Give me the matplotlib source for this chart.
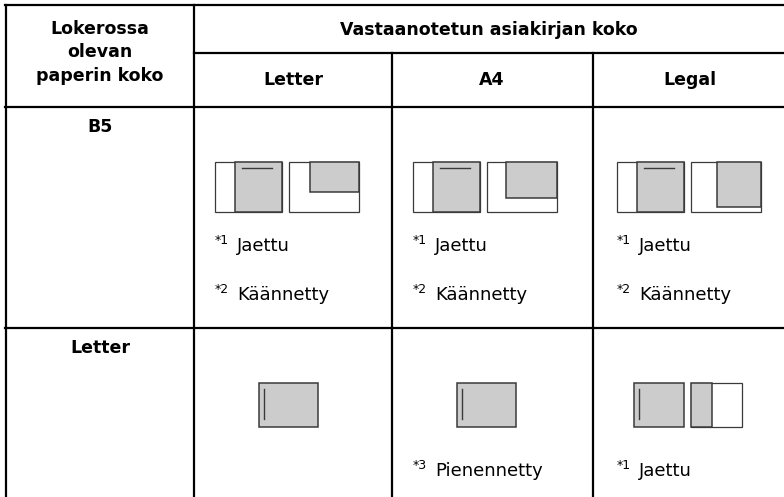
import matplotlib.pyplot as plt
from matplotlib.patches import Rectangle

# Table content
corner_lines = ["Lokerossa", "olevan", "paperin koko"]
group_header = "Vastaanotetun asiakirjan koko"
doc_sizes = ["Letter", "A4", "Legal"]
tray_sizes = ["B5", "Letter"]
cell_notes = [
    [[("*1", "Jaettu"), ("*2", "Käännetty")],
     [("*1", "Jaettu"), ("*2", "Käännetty")],
     [("*1", "Jaettu"), ("*2", "Käännetty")]],
    [[],
     [("*3", "Pienennetty")],
     [("*1", "Jaettu")]],
]
# icon kind per cell
cell_icons = [
    ["split+rot_letter", "split+rot_a4", "split+rot_legal"],
    ["single", "single", "single+half"],
]

GRAY = "#cccccc"
EDGE = "#3a3a3a"
FONT = "DejaVu Sans"

fig = plt.figure(figsize=(7.84, 4.97), dpi=100)
ax = fig.add_axes([0, 0, 1, 1])
ax.set_xlim(0, 784)
ax.set_ylim(497, 0)
ax.axis("off")

# grid lines (pixel layout)
col_x = [6, 194, 392, 593]
lw = 1.6
ax.plot([5, 784], [5, 5], color="k", lw=lw)
ax.plot([6, 6], [5, 497], color="k", lw=lw)
ax.plot([194, 194], [5, 497], color="k", lw=lw)
ax.plot([194, 784], [53, 53], color="k", lw=lw)
ax.plot([5, 784], [107, 107], color="k", lw=lw)
ax.plot([392, 392], [53, 497], color="k", lw=lw)
ax.plot([593, 593], [53, 497], color="k", lw=lw)
ax.plot([5, 784], [328, 328], color="k", lw=lw)

# headers
HS = 12.5
for txt, yb in zip(corner_lines, [34, 57, 81]):
    ax.text(100, yb, txt, ha="center", va="baseline", fontsize=HS,
            fontweight="bold", family=FONT)
ax.text(489, 35, group_header, ha="center", va="baseline", fontsize=HS,
        fontweight="bold", family=FONT)
col_centers = [293, 492, 690]
for txt, xc in zip(doc_sizes, col_centers):
    ax.text(xc, 85, txt, ha="center", va="baseline", fontsize=HS,
            fontweight="bold", family=FONT)
for txt, yb in zip(tray_sizes, [132, 353]):
    ax.text(100, yb, txt, ha="center", va="baseline", fontsize=HS,
            fontweight="bold", family=FONT)


def rect(x, y, w, h, fc, lw=0.9, ec=EDGE):
    ax.add_patch(Rectangle((x, y), w, h, facecolor=fc, edgecolor=ec, lw=lw))


def icon_split(x, y):
    rect(x, y, 67, 50, "white")
    rect(x + 20, y, 47, 50, GRAY, lw=1.1)
    ax.plot([x + 27, x + 57], [y + 6, y + 6], color=EDGE, lw=1.0)


def icon_rot(x, y, gw, gh):
    rect(x, y, 70, 50, "white")
    rect(x + 70 - gw, y, gw, gh, GRAY, lw=1.1)


def icon_single(x, y, w=59):
    rect(x, y, w, 44, GRAY, lw=1.1)
    ax.plot([x + 5, x + 5], [y + 6, y + 36], color=EDGE, lw=1.0)


def icon_half(x, y):
    rect(x, y, 51, 44, "white")
    rect(x, y, 21, 44, GRAY, lw=1.1)


rot_dims = {"split+rot_letter": (49, 30), "split+rot_a4": (51, 36),
            "split+rot_legal": (44, 45)}

for r, row in enumerate(cell_icons):
    for c, kind in enumerate(row):
        left = col_x[c + 1]
        if kind.startswith("split"):
            x0 = left + (21 if c < 2 else 24)
            icon_split(x0, 162)
            gw, gh = rot_dims[kind]
            icon_rot(x0 + 74, 162, gw, gh)
        elif kind == "single":
            icon_single(left + 65, 383)
        else:
            icon_single(left + 41, 383, w=50)
            icon_half(left + 98, 383)

# notes
note_y = [[251, 300], [476]]
for r, row in enumerate(cell_notes):
    for c, notes in enumerate(row):
        x0 = col_x[c + 1] + (21 if c < 2 else 24)
        for (sup, word), yb in zip(notes, note_y[r]):
            ax.text(x0, yb - 7, sup, ha="left", va="baseline", fontsize=9,
                    family=FONT)
            ax.text(x0 + 22, yb, word, ha="left", va="baseline", fontsize=13,
                    family=FONT)

fig.savefig("out.png", dpi=100)
